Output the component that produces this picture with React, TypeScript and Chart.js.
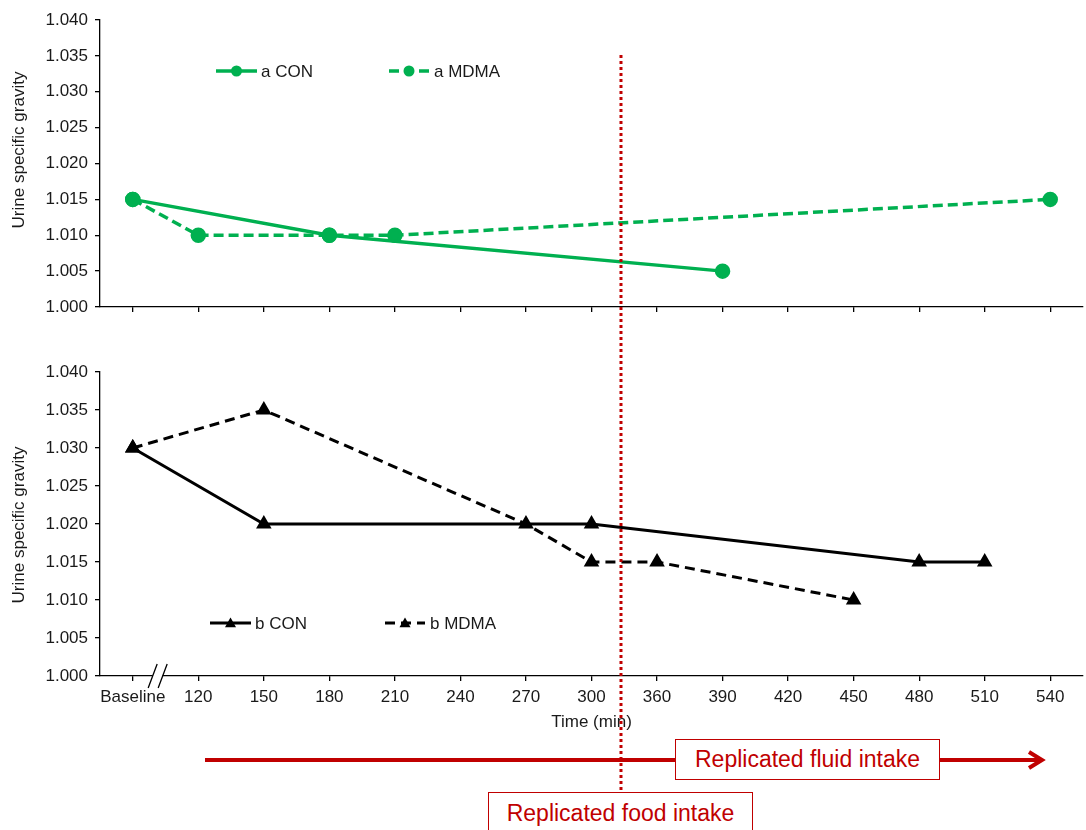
import React, { useEffect, useRef } from "react";
import { Chart, registerables } from "chart.js";

Chart.register(...registerables);

// ---- data ----
const categories = ["Baseline", "120", "150", "180", "210", "240", "270", "300", "360", "390", "420", "450", "480", "510", "540"];
const aCON = [1.015, null, null, 1.01, null, null, null, null, null, 1.005, null, null, null, null, null];
const aMDMA = [1.015, 1.01, null, 1.01, 1.01, null, null, null, null, null, null, null, null, null, 1.015];
const bCON = [1.03, null, 1.02, null, null, null, null, 1.02, null, null, null, null, 1.015, 1.015, null];
const bMDMA = [1.03, null, 1.035, null, null, null, 1.02, 1.015, 1.015, null, null, 1.01, null, null, null];
const yMin = 1.0;
const yMax = 1.04;
const yStep = 0.005;
const FOOD_INTAKE_INDEX = 7.45; // between 300 and 360
const BREAK_INDEX = 0.38; // axis break between Baseline and 120
const Y_TITLE = "Urine specific gravity";
const X_TITLE = "Time (min)";

const GREEN = "#00B050";
const RED = "#C00000";
const FONT = "'Liberation Sans', Arial, sans-serif";
const TXT = "#1a1a1a";

type LegendItem = { ds: number; label: string; x1: number; x2: number; tx: number; y: number };

function legendPlugin(items: LegendItem[]) {
  return {
    id: "customLegend",
    afterDraw(chart: any) {
      const ctx = chart.ctx;
      ctx.save();
      items.forEach((it) => {
        const ds = chart.data.datasets[it.ds];
        ctx.strokeStyle = ds.borderColor;
        ctx.lineWidth = ds.borderWidth;
        ctx.setLineDash(ds.borderDash || []);
        ctx.beginPath();
        ctx.moveTo(it.x1, it.y);
        ctx.lineTo(it.x2, it.y);
        ctx.stroke();
        ctx.setLineDash([]);
        const cx = (it.x1 + it.x2) / 2;
        ctx.fillStyle = ds.pointBackgroundColor;
        ctx.beginPath();
        if (ds.pointStyle === "triangle") {
          const r = 5.5;
          ctx.moveTo(cx, it.y - r);
          ctx.lineTo(cx + r, it.y + r * 0.75);
          ctx.lineTo(cx - r, it.y + r * 0.75);
          ctx.closePath();
        } else {
          ctx.arc(cx, it.y, 5.5, 0, Math.PI * 2);
        }
        ctx.fill();
        ctx.fillStyle = TXT;
        ctx.font = `17px ${FONT}`;
        ctx.textAlign = "left";
        ctx.textBaseline = "middle";
        ctx.fillText(it.label, it.tx, it.y + 1);
      });
      ctx.restore();
    },
  };
}

function yTitlePlugin(cx: number, cy: number) {
  return {
    id: "yTitle",
    afterDraw(chart: any) {
      const ctx = chart.ctx;
      ctx.save();
      ctx.translate(cx, cy);
      ctx.rotate(-Math.PI / 2);
      ctx.fillStyle = TXT;
      ctx.font = `17px ${FONT}`;
      ctx.textAlign = "center";
      ctx.textBaseline = "middle";
      ctx.fillText(Y_TITLE, 0, 0);
      ctx.restore();
    },
  };
}

const breakPlugin = {
  id: "axisBreak",
  afterDraw(chart: any) {
    const ctx = chart.ctx;
    const x = chart.scales.x.getPixelForValue(BREAK_INDEX);
    const y = chart.chartArea.bottom;
    ctx.save();
    ctx.fillStyle = "#fff";
    ctx.fillRect(x - 5, y - 2, 10, 4);
    ctx.strokeStyle = "#000";
    ctx.lineWidth = 1.3;
    ctx.beginPath();
    ctx.moveTo(x - 9.5, y + 12);
    ctx.lineTo(x - 0.5, y - 12);
    ctx.moveTo(x + 0.5, y + 12);
    ctx.lineTo(x + 9.5, y - 12);
    ctx.stroke();
    ctx.restore();
  },
};

function baseOptions(padTop: number, xHeight: number, showLabels: boolean): any {
  return {
    responsive: false,
    animation: false,
    devicePixelRatio: 1,
    layout: { autoPadding: false, padding: { left: 0, right: 3, top: padTop, bottom: 0 } },
    plugins: { legend: { display: false }, tooltip: { enabled: false } },
    scales: {
      x: {
        type: "category",
        offset: true,
        grid: { display: true, drawOnChartArea: false, tickLength: 5, color: "#000", lineWidth: 1.3 },
        border: { display: true, color: "#000", width: 1.3 },
        ticks: {
          autoSkip: false,
          maxRotation: 0,
          padding: 6,
          color: TXT,
          font: { family: FONT, size: 17 },
          callback: function (this: any, v: any) {
            return showLabels ? this.getLabelForValue(v) : "";
          },
        },
        title: showLabels
          ? { display: true, text: X_TITLE, color: TXT, font: { family: FONT, size: 17 }, padding: { top: 0, bottom: 3 } }
          : { display: false },
        afterFit: (s: any) => {
          s.height = xHeight;
          s.paddingLeft = 0;
          s.paddingRight = 0;
        },
      },
      y: {
        min: yMin,
        max: yMax,
        grid: { display: true, drawOnChartArea: false, tickLength: 5, color: "#000", lineWidth: 1.3 },
        border: { display: true, color: "#000", width: 1.3 },
        ticks: {
          stepSize: yStep,
          padding: 7,
          color: TXT,
          font: { family: FONT, size: 17 },
          callback: (v: any) => Number(v).toFixed(3),
        },
        title: { display: false },
        afterFit: (s: any) => {
          s.width = 100;
        },
      },
    },
  };
}

export default function App() {
  const topRef = useRef<HTMLCanvasElement>(null);
  const botRef = useRef<HTMLCanvasElement>(null);
  const overRef = useRef<HTMLCanvasElement>(null);

  useEffect(() => {
    const top = new Chart(topRef.current!, {
      type: "line",
      data: {
        labels: categories,
        datasets: [
          {
            label: "a CON",
            data: aCON,
            borderColor: GREEN,
            backgroundColor: GREEN,
            pointBackgroundColor: GREEN,
            pointBorderColor: GREEN,
            borderWidth: 3.5,
            pointRadius: 6,
            pointStyle: "circle",
            spanGaps: true,
            tension: 0,
          },
          {
            label: "a MDMA",
            data: aMDMA,
            borderColor: GREEN,
            backgroundColor: GREEN,
            pointBackgroundColor: GREEN,
            pointBorderColor: GREEN,
            borderWidth: 3.5,
            borderDash: [10, 5],
            pointRadius: 6,
            pointStyle: "circle",
            spanGaps: true,
            tension: 0,
          },
        ] as any,
      },
      options: baseOptions(20, 23, false),
      plugins: [
        yTitlePlugin(19, 150),
        legendPlugin([
          { ds: 0, label: "a CON", x1: 216, x2: 257, tx: 261, y: 71 },
          { ds: 1, label: "a MDMA", x1: 389, x2: 429, tx: 434, y: 71 },
        ]),
      ],
    } as any);

    const bot = new Chart(botRef.current!, {
      type: "line",
      data: {
        labels: categories,
        datasets: [
          {
            label: "b CON",
            data: bCON,
            borderColor: "#000",
            backgroundColor: "#000",
            pointBackgroundColor: "#000",
            pointBorderColor: "#000",
            borderWidth: 3,
            pointRadius: 6,
            pointStyle: "triangle",
            spanGaps: true,
            tension: 0,
          },
          {
            label: "b MDMA",
            data: bMDMA,
            borderColor: "#000",
            backgroundColor: "#000",
            pointBackgroundColor: "#000",
            pointBorderColor: "#000",
            borderWidth: 3,
            borderDash: [10, 6],
            pointRadius: 6,
            pointStyle: "triangle",
            spanGaps: true,
            tension: 0,
          },
        ] as any,
      },
      options: baseOptions(32, 60, true),
      plugins: [
        breakPlugin,
        yTitlePlugin(19, 185),
        legendPlugin([
          { ds: 0, label: "b CON", x1: 210, x2: 251, tx: 255, y: 283 },
          { ds: 1, label: "b MDMA", x1: 385, x2: 425, tx: 430, y: 283 },
        ]),
      ],
    } as any);

    // overlay: dotted food-intake line and fluid-intake arrow
    const oc = overRef.current!;
    const ctx = oc.getContext("2d")!;
    ctx.clearRect(0, 0, oc.width, oc.height);
    const fx = bot.scales.x.getPixelForValue(FOOD_INTAKE_INDEX);
    ctx.save();
    ctx.strokeStyle = RED;
    ctx.lineWidth = 3;
    ctx.setLineDash([3, 3]);
    ctx.beginPath();
    ctx.moveTo(fx, 55);
    ctx.lineTo(fx, 830);
    ctx.stroke();
    ctx.setLineDash([]);
    ctx.lineWidth = 4;
    ctx.beginPath();
    ctx.moveTo(205, 760);
    ctx.lineTo(1041, 760);
    ctx.stroke();
    ctx.lineWidth = 4;
    ctx.beginPath();
    ctx.moveTo(1029, 752);
    ctx.lineTo(1042, 760);
    ctx.lineTo(1029, 768);
    ctx.stroke();
    ctx.restore();

    return () => {
      top.destroy();
      bot.destroy();
    };
  }, []);

  const boxStyle: React.CSSProperties = {
    position: "absolute",
    background: "#fff",
    border: `1.5px solid ${RED}`,
    color: RED,
    fontFamily: FONT,
    fontSize: 23,
    boxSizing: "border-box",
    display: "flex",
    alignItems: "center",
    justifyContent: "center",
    whiteSpace: "nowrap",
    zIndex: 3,
  };

  return (
    <div style={{ position: "absolute", left: 0, top: 0, width: 1086, height: 830, overflow: "hidden", background: "#fff" }}>
      <canvas ref={topRef} width={1086} height={330} style={{ position: "absolute", left: 0, top: 0, width: 1086, height: 330 }} />
      <canvas ref={botRef} width={1086} height={396} style={{ position: "absolute", left: 0, top: 340, width: 1086, height: 396 }} />
      <canvas
        ref={overRef}
        width={1086}
        height={830}
        style={{ position: "absolute", left: 0, top: 0, width: 1086, height: 830, pointerEvents: "none", zIndex: 2 }}
      />
      <div style={{ ...boxStyle, left: 675, top: 739, width: 265, height: 41 }}>Replicated fluid intake</div>
      <div style={{ ...boxStyle, left: 488, top: 792, width: 265, height: 44, alignItems: "flex-start", paddingTop: 7 }}>
        Replicated food intake
      </div>
    </div>
  );
}
